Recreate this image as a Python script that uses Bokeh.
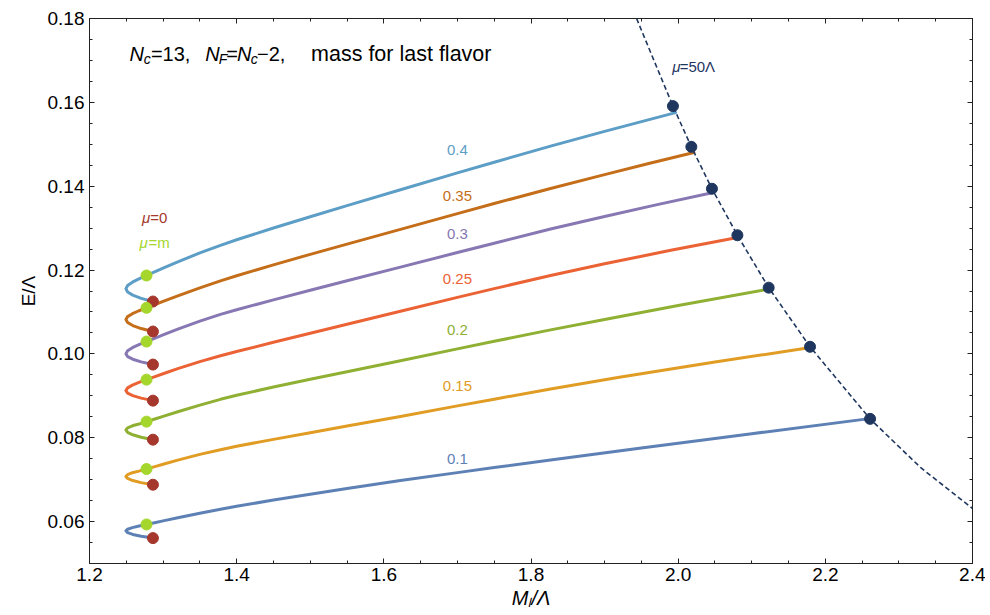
from bokeh.plotting import figure
from bokeh.models import Label, LinearAxis, FixedTicker, NumeralTickFormatter, Range1d
from bokeh.embed import file_html
from bokeh.resources import INLINE

# ---------------- data ----------------
series_names = ["0.1", "0.15", "0.2", "0.25", "0.3", "0.35", "0.4"]
series_colors = ["#5E81B5", "#E19C24", "#8FB032", "#EB6235", "#8778B3", "#C56E1A", "#5D9EC7"]

# low-mass loop (from mu=0 point, around the turning point, up to mu=m point)
loop_x = [1.2862, 1.2702, 1.2588, 1.2518, 1.2495, 1.2518, 1.2583, 1.2672, 1.2775]
main_x = [1.29, 1.30, 1.32, 1.35, 1.378, 1.40, 1.45, 1.50, 1.55, 1.6226, 1.70, 1.75, 1.8266]

x_01 = loop_x + main_x + [1.95, 2.10, 2.2573]
y_01 = [0.05606, 0.05650, 0.05693, 0.05737, 0.05780, 0.05818, 0.05856, 0.05893, 0.05931,
        0.05979, 0.06017, 0.06091, 0.06199, 0.06294, 0.06364, 0.06514, 0.06654, 0.06789,
        0.06978, 0.07168, 0.07288, 0.07470,
        0.07756, 0.08096, 0.08450]

x_015 = loop_x + main_x + [1.92, 2.05, 2.1733]
y_015 = [0.06879, 0.06929, 0.06978, 0.07028, 0.07077, 0.07121, 0.07166, 0.07203, 0.07254,
         0.07317, 0.07367, 0.07465, 0.07603, 0.07715, 0.07796, 0.07961, 0.08121, 0.08279,
         0.08508, 0.08760, 0.08920, 0.09161,
         0.09441, 0.09805, 0.10134]

x_02 = loop_x + main_x + [1.90, 2.00, 2.1189]
y_02 = [0.07954, 0.08012, 0.08070, 0.08127, 0.08185, 0.08235, 0.08285, 0.08326, 0.08384,
        0.08454, 0.08510, 0.08620, 0.08779, 0.08916, 0.09013, 0.09208, 0.09393, 0.09576,
        0.09837, 0.10120, 0.10300, 0.10572,
        0.10822, 0.11152, 0.11532]

x_025 = loop_x + main_x + [1.90, 1.99, 2.0772]
y_025 = [0.08885, 0.08945, 0.09005, 0.09064, 0.09124, 0.09190, 0.09255, 0.09321, 0.09386,
         0.09465, 0.09527, 0.09647, 0.09815, 0.09955, 0.10056, 0.10276, 0.10491, 0.10706,
         0.11018, 0.11347, 0.11557, 0.11871,
         0.12150, 0.12470, 0.12766]

x_03 = loop_x + main_x + [1.90, 1.97, 2.0478]
y_03 = [0.09745, 0.09809, 0.09873, 0.09936, 0.10000, 0.10074, 0.10147, 0.10221, 0.10294,
        0.10383, 0.10453, 0.10589, 0.10781, 0.10943, 0.11053, 0.11288, 0.11518, 0.11743,
        0.12070, 0.12417, 0.12640, 0.12977,
        0.13278, 0.13555, 0.13851]

x_035 = loop_x + main_x + [1.90, 1.96, 2.0214]
y_035 = [0.10533, 0.10604, 0.10676, 0.10748, 0.10819, 0.10889, 0.10959, 0.11029, 0.11099,
         0.11184, 0.11251, 0.11383, 0.11575, 0.11743, 0.11864, 0.12124, 0.12374, 0.12619,
         0.12971, 0.13346, 0.13586, 0.13946,
         0.14276, 0.14540, 0.14804]

x_04 = loop_x + main_x + [1.90, 1.9965]
y_04 = [0.11249, 0.11325, 0.11401, 0.11476, 0.11552, 0.11632, 0.11711, 0.11791, 0.11870,
        0.11968, 0.12045, 0.12195, 0.12408, 0.12590, 0.12722, 0.13002, 0.13272, 0.13537,
        0.13915, 0.14317, 0.14572, 0.14955,
        0.15307, 0.15756]

curves_x = [x_01, x_015, x_02, x_025, x_03, x_035, x_04]
curves_y = [y_01, y_015, y_02, y_025, y_03, y_035, y_04]

# mu = 0 points (red), mu = m points (green), mu = 50 Lambda points (navy)
mu0_x = [1.2862] * 7
mu0_y = [0.05606, 0.06879, 0.07954, 0.08885, 0.09745, 0.10533, 0.11249]
mum_x = [1.2775] * 7
mum_y = [0.05931, 0.07254, 0.08384, 0.09386, 0.10294, 0.11099, 0.11870]
mu50_x = [2.2608, 2.1792, 2.1230, 2.0805, 2.0459, 2.0179, 1.9929]
mu50_y = [0.0845, 0.1017, 0.1158, 0.1283, 0.1394, 0.1494, 0.1591]

# mu = 50 Lambda dashed curve
dash_x = [1.9435, 1.9557, 1.9929, 2.0179, 2.0459, 2.0805, 2.1230, 2.1792, 2.2608, 2.3297, 2.4005]
dash_y = [0.1800, 0.17482, 0.1591, 0.1494, 0.1394, 0.1283, 0.1158, 0.1017, 0.0845, 0.07285, 0.06306]

# curve label positions (data coords)
label_x = [1.70] * 7
label_y = [0.0750, 0.09243, 0.1058, 0.11798, 0.12849, 0.13757, 0.14855]

x_ticks = [1.2, 1.4, 1.6, 1.8, 2.0, 2.2, 2.4]
y_ticks = [0.06, 0.08, 0.10, 0.12, 0.14, 0.16, 0.18]
x_minor = [round(1.2 + 0.05 * i, 4) for i in range(25)]
y_minor = [round(0.05 + 0.005 * i, 4) for i in range(27)]

FONT = "Liberation Sans"
RED = "#A5372D"
GREEN = "#A4D62C"
NAVY = "#1F375F"
FRAME = "#222222"

# ---------------- figure ----------------
p = figure(width=985, height=615, output_backend="svg", toolbar_location=None,
           x_range=Range1d(1.2, 2.4), y_range=Range1d(0.05, 0.18),
           min_border_left=89, min_border_right=13, min_border_top=18, min_border_bottom=52)
p.background_fill_color = "white"
p.border_fill_color = "white"
p.outline_line_color = FRAME
p.xgrid.grid_line_color = None
p.ygrid.grid_line_color = None

def style_axis(ax, ticks, minor, fmt, show_labels):
    ax.ticker = FixedTicker(ticks=ticks, minor_ticks=minor)
    ax.formatter = NumeralTickFormatter(format=fmt)
    ax.axis_line_color = FRAME
    ax.major_tick_line_color = FRAME
    ax.minor_tick_line_color = FRAME
    ax.major_tick_in = 5
    ax.major_tick_out = 0
    ax.minor_tick_in = 3
    ax.minor_tick_out = 0
    ax.major_label_text_font = FONT
    if show_labels:
        ax.major_label_text_color = "black"
        ax.major_label_text_font_size = "19px"
        ax.major_label_standoff = 5
    else:
        ax.major_label_text_color = None
        ax.major_label_text_font_size = "1px"
        ax.major_label_standoff = 0

style_axis(p.xaxis[0], x_ticks, x_minor, "0.0", True)
style_axis(p.yaxis[0], y_ticks, y_minor, "0.00", True)
p.yaxis[0].axis_label = "E/\u039b"
p.yaxis[0].axis_label_text_font = FONT
p.yaxis[0].axis_label_text_font_style = "normal"
p.yaxis[0].axis_label_text_font_size = "19px"
p.yaxis[0].axis_label_text_color = "black"
p.yaxis[0].axis_label_standoff = 6

p.xaxis[0].major_label_standoff = 4
p.xaxis[0].axis_label = "M\u2097/\u039b"
p.xaxis[0].axis_label_text_font = FONT
p.xaxis[0].axis_label_text_font_style = "italic"
p.xaxis[0].axis_label_text_font_size = "20px"
p.xaxis[0].axis_label_text_color = "black"
p.xaxis[0].axis_label_standoff = 3

top_axis = LinearAxis()
style_axis(top_axis, x_ticks, x_minor, "0.0", False)
p.add_layout(top_axis, "above")
right_axis = LinearAxis()
style_axis(right_axis, y_ticks, y_minor, "0.00", False)
p.add_layout(right_axis, "right")

# curves
for cx, cy, col in zip(curves_x, curves_y, series_colors):
    p.line(cx, cy, line_color=col, line_width=3, line_join="round", line_cap="round")

# dashed mu = 50 Lambda curve
p.line(dash_x, dash_y, line_color=NAVY, line_width=1.6, line_dash="5 3")

p.scatter(mu50_x, mu50_y, size=11, fill_color=NAVY, line_color=NAVY)
p.scatter(mu0_x, mu0_y, size=11, fill_color=RED, line_color=RED)
p.scatter(mum_x, mum_y, size=11, fill_color=GREEN, line_color=GREEN)

def add_label(x, y, text, size, color="black", style="normal", align="left", baseline="alphabetic"):
    p.add_layout(Label(x=x, y=y, x_units="data", y_units="data", text=text,
                       text_font=FONT, text_font_size=size, text_font_style=style,
                       text_color=color, text_align=align, text_baseline=baseline))

# curve labels
for lx, ly, name, col in zip(label_x, label_y, series_names, series_colors):
    add_label(lx, ly, name, "15px", col, align="center", baseline="middle")

# mu labels
add_label(1.2713, 0.13262, "\u03bc", "15px", RED, style="italic")
add_label(1.2826, 0.13262, "=0", "15px", RED)
add_label(1.2681, 0.12651, "\u03bc", "15px", GREEN, style="italic")
add_label(1.2802, 0.12651, "=m", "15px", GREEN)
add_label(1.9921, 0.16861, "\u03bc", "15px", NAVY, style="italic")
add_label(2.0020, 0.16861, "=50\u039b", "15px", NAVY)

# title pieces
tb = 0.17164
sb = 0.17045
add_label(1.2544, tb, "N", "20px", style="italic")
add_label(1.2737, sb, "c", "14px", style="italic")
add_label(1.2835, tb, "=13,", "20px")
add_label(1.3574, tb, "N", "20px", style="italic")
add_label(1.3757, sb, "F", "14px", style="italic")
add_label(1.3859, tb, "=", "20px")
add_label(1.4005, tb, "N", "20px", style="italic")
add_label(1.4192, sb, "c", "14px", style="italic")
add_label(1.4277, tb, "\u22122,", "20px")
add_label(1.5011, tb, "mass for last flavor", "21.5px")

open("out.html", "w").write(file_html(p, INLINE))
